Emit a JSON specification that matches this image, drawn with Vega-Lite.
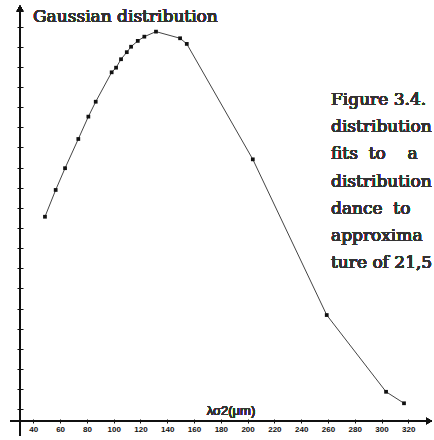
{
  "$schema": "https://vega.github.io/schema/vega-lite/v6.json",
  "width": 414,
  "height": 421,
  "autosize": "none",
  "padding": {"left": 20, "top": 0, "right": 0, "bottom": 19},
  "background": "white",
  "config": {"view": {"stroke": null}, "axis": {"labelOverlap": false, "labelBound": false, "labelFlush": false}},
  "data": {"values": [
    {"lambda": 48.7, "g": 10.56},
    {"lambda": 56.7, "g": 11.89},
    {"lambda": 63.7, "g": 12.97},
    {"lambda": 73.6, "g": 14.42},
    {"lambda": 81.1, "g": 15.53},
    {"lambda": 86.6, "g": 16.27},
    {"lambda": 98.5, "g": 17.73},
    {"lambda": 101.8, "g": 17.96},
    {"lambda": 105.5, "g": 18.38},
    {"lambda": 109.8, "g": 18.73},
    {"lambda": 113.0, "g": 19.0},
    {"lambda": 118.0, "g": 19.29},
    {"lambda": 122.9, "g": 19.5},
    {"lambda": 131.6, "g": 19.75},
    {"lambda": 149.6, "g": 19.42},
    {"lambda": 154.6, "g": 19.14},
    {"lambda": 203.9, "g": 13.41},
    {"lambda": 259.1, "g": 5.68},
    {"lambda": 303.4, "g": 1.87},
    {"lambda": 316.8, "g": 1.30}
  ]},
  "layer": [
    {
      "mark": {"type": "line", "color": "#444444", "strokeWidth": 1, "interpolate": "linear"},
      "encoding": {
        "x": {"field": "lambda", "type": "quantitative",
              "scale": {"domain": [30.06, 339.2], "nice": false, "zero": false},
              "axis": {"values": [40, 60, 80, 100, 120, 140, 160, 180, 200, 220, 240, 260, 280, 300, 320],
                       "tickCount": 40,
                       "domain": false, "grid": false, "title": null, "tickSize": 4, "offset": -2,
                       "tickColor": "#111111", "tickWidth": 1, "labelOverlap": false,
                       "labelFont": "Liberation Sans", "labelFontSize": 8, "labelFontWeight": "bold",
                       "labelColor": "#111111", "labelPadding": 2}},
        "y": {"field": "g", "type": "quantitative",
              "scale": {"domain": [0.42, 21.32], "nice": false, "zero": false},
              "axis": {"values": [1, 2, 3, 4, 5, 6, 7, 8, 9, 10, 11, 12, 13, 14, 15, 16, 17, 18, 19, 20],
                       "tickCount": 40,
                       "domain": false, "grid": false, "title": null, "labels": false,
                       "tickSize": 6, "offset": -3, "tickColor": "#111111", "tickWidth": 1}}
      }
    },
    {
      "mark": {"type": "point", "shape": "square", "filled": true, "size": 14, "color": "#111111", "opacity": 1},
      "encoding": {
        "x": {"field": "lambda", "type": "quantitative", "scale": {"domain": [30.06, 339.2], "nice": false, "zero": false}},
        "y": {"field": "g", "type": "quantitative", "scale": {"domain": [0.42, 21.32], "nice": false, "zero": false}}
      }
    },
    {
      "mark": {"type": "rule", "color": "#111111", "strokeWidth": 1.5},
      "encoding": {
        "x": {"datum": 30.06, "type": "quantitative", "scale": {"domain": [30.06, 339.2], "nice": false, "zero": false}},
        "y": {"datum": -0.3, "type": "quantitative", "scale": {"domain": [0.42, 21.32], "nice": false, "zero": false}},
        "y2": {"datum": 20.9}
      }
    },
    {
      "mark": {"type": "rule", "color": "#111111", "strokeWidth": 1.5},
      "encoding": {
        "y": {"datum": 0.42, "type": "quantitative", "scale": {"domain": [0.42, 21.32], "nice": false, "zero": false}},
        "x": {"datum": 22.6, "type": "quantitative", "scale": {"domain": [30.06, 339.2], "nice": false, "zero": false}},
        "x2": {"datum": 335.5}
      }
    },
    {
      "mark": {"type": "point", "shape": "triangle-up", "filled": true, "size": 45, "color": "#111111", "opacity": 1},
      "encoding": {
        "x": {"datum": 30.06, "type": "quantitative", "scale": {"domain": [30.06, 339.2], "nice": false, "zero": false}},
        "y": {"datum": 20.9, "type": "quantitative", "scale": {"domain": [0.42, 21.32], "nice": false, "zero": false}}
      }
    },
    {
      "mark": {"type": "point", "shape": "triangle-right", "filled": true, "size": 45, "color": "#111111", "opacity": 1},
      "encoding": {
        "x": {"datum": 335.5, "type": "quantitative", "scale": {"domain": [30.06, 339.2], "nice": false, "zero": false}},
        "y": {"datum": 0.42, "type": "quantitative", "scale": {"domain": [0.42, 21.32], "nice": false, "zero": false}}
      }
    },
    {
      "mark": {"type": "text", "text": "Gaussian distribution", "align": "left", "baseline": "alphabetic",
               "font": "DejaVu Serif", "fontSize": 17, "fontWeight": "normal", "color": "#333333"},
      "encoding": {
        "x": {"datum": 39.8, "type": "quantitative", "scale": {"domain": [30.06, 339.2], "nice": false, "zero": false}},
        "y": {"datum": 20.21, "type": "quantitative", "scale": {"domain": [0.42, 21.32], "nice": false, "zero": false}}
      }
    },
    {
      "mark": {"type": "text", "text": "λσ2(μm)", "align": "center", "baseline": "alphabetic",
               "font": "Liberation Sans", "fontSize": 13, "fontWeight": "normal", "color": "#333333"},
      "encoding": {
        "x": {"datum": 187.6, "type": "quantitative", "scale": {"domain": [30.06, 339.2], "nice": false, "zero": false}},
        "y": {"datum": 0.72, "type": "quantitative", "scale": {"domain": [0.42, 21.32], "nice": false, "zero": false}}
      }
    },
    {
      "mark": {"type": "text",
               "text": ["Figure 3.4.", "distribution", "fits\u00a0\u00a0to\u00a0\u00a0\u00a0\u00a0a", "distribution", "dance\u00a0\u00a0to", "approxima", "ture of 21,5"],
               "align": "left", "baseline": "alphabetic", "lineHeight": 27.2,
               "font": "DejaVu Serif", "fontSize": 17, "fontWeight": "normal", "color": "#333333"},
      "encoding": {
        "x": {"datum": 262.3, "type": "quantitative", "scale": {"domain": [30.06, 339.2], "nice": false, "zero": false}},
        "y": {"datum": 16.11, "type": "quantitative", "scale": {"domain": [0.42, 21.32], "nice": false, "zero": false}}
      }
    }
  ]
}
